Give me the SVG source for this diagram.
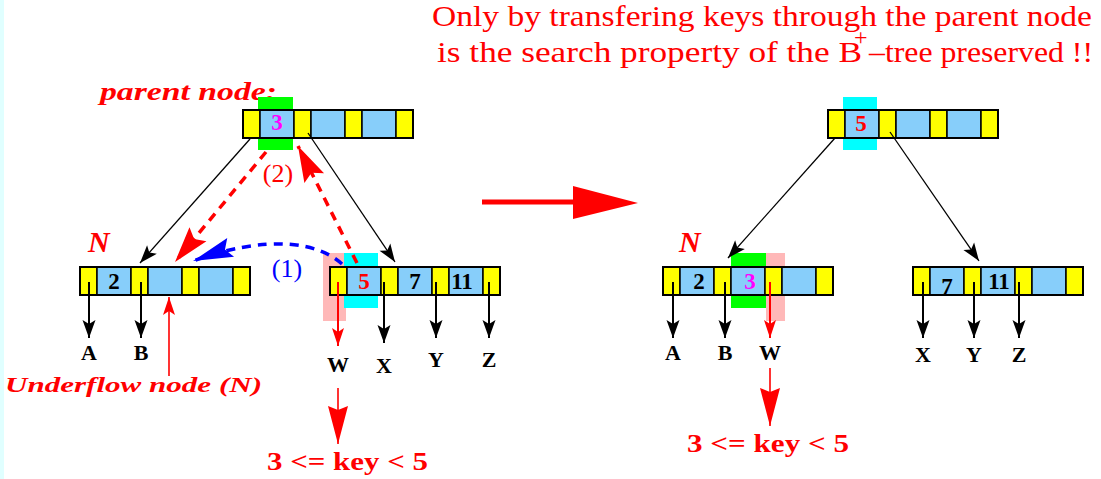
<svg xmlns="http://www.w3.org/2000/svg" width="1101" height="479" viewBox="0 0 1101 479">
<style>
.y{fill:#ffff00;stroke:#000;stroke-width:1.5}
.b{fill:#87cefa;stroke:#000;stroke-width:1.5}
.o{fill:none;stroke:#000;stroke-width:2}
.k{font-family:"Liberation Serif",serif;font-weight:bold;font-size:23px;text-anchor:middle}
.lbl{font-family:"Liberation Serif",serif;font-weight:bold;font-size:22px;text-anchor:middle;fill:#000}
.it{font-family:"Liberation Serif",serif;font-weight:bold;font-style:italic;fill:#ff0000}
.title{font-family:"Liberation Serif",serif;font-size:30px;fill:#ff0000}
.rng{font-family:"Liberation Serif",serif;font-weight:bold;font-size:26px;fill:#ff0000}
.blk{stroke:#000;stroke-width:1.3;fill:none}
.vb{stroke:#000;stroke-width:2;fill:none}
.red{stroke:#ff0000;stroke-width:1.6;fill:none}
.vr{stroke:#ff0000;stroke-width:2;fill:none}
.rdash{stroke:#ff0000;stroke-width:3.5;fill:none;stroke-dasharray:9 7}
.bdash{stroke:#0000ff;stroke-width:3.5;fill:none;stroke-dasharray:9 7}
.par{font-family:"Liberation Serif",serif;font-size:26px;text-anchor:middle}
</style>
<defs>
<marker id="ak" markerUnits="userSpaceOnUse" markerWidth="18" markerHeight="13" refX="18" refY="6.5" orient="auto" overflow="visible"><path d="M0,0 L18,6.5 L0,13 L4,6.5 z" fill="#000"/></marker>
<marker id="ar" markerUnits="userSpaceOnUse" markerWidth="18" markerHeight="12" refX="18" refY="6" orient="auto" overflow="visible"><path d="M0,0 L18,6 L0,12 L4,6 z" fill="#ff0000"/></marker>
<marker id="aR" markerUnits="userSpaceOnUse" markerWidth="36" markerHeight="22" refX="36" refY="11" orient="auto" overflow="visible"><path d="M0,0 L36,11 L0,22 L6,11 z" fill="#ff0000"/></marker>
<marker id="aB" markerUnits="userSpaceOnUse" markerWidth="40" markerHeight="20" refX="40" refY="10" orient="auto" overflow="visible"><path d="M0,0 L40,10 L0,20 L6,10 z" fill="#0000ff"/></marker>
<marker id="aD" markerUnits="userSpaceOnUse" markerWidth="38" markerHeight="20" refX="38" refY="10" orient="auto" overflow="visible"><path d="M0,0 L38,10 L0,20 L4,10 z" fill="#ff0000"/></marker>
<g id="cells">
<rect class="y" x="0" y="0" width="17" height="28"/>
<rect class="b" x="17" y="0" width="34" height="28"/>
<rect class="y" x="51" y="0" width="17" height="28"/>
<rect class="b" x="68" y="0" width="34" height="28"/>
<rect class="y" x="102" y="0" width="17" height="28"/>
<rect class="b" x="119" y="0" width="34" height="28"/>
<rect class="y" x="153" y="0" width="17" height="28"/>
<rect class="o" x="0" y="0" width="170" height="28"/>
</g>
</defs>
<rect x="0" y="0" width="1101" height="479" fill="#ffffff"/>
<rect x="0" y="0" width="4" height="479" fill="#e0ffff"/>

<g id="title">
<text class="title" x="432" y="26" textLength="660" lengthAdjust="spacingAndGlyphs">Only by transfering keys through the parent node</text>
<text class="title" y="62"><tspan x="437" textLength="425" lengthAdjust="spacingAndGlyphs">is the search property of the B</tspan><tspan x="854" y="45" font-size="24">+</tspan><tspan x="869" y="62" textLength="224" lengthAdjust="spacingAndGlyphs">–tree preserved !!</tspan></text>
</g>

<g id="parent-left">
<text class="it" x="100" y="100" font-size="25" textLength="177" lengthAdjust="spacingAndGlyphs">parent node:</text>
<rect x="258" y="97" width="35" height="53" fill="#00ff00"/>
<use href="#cells" x="243" y="110"/>
<text class="k" x="277" y="130" fill="#ff00ff">3</text>
</g>

<g id="node-N-left">
<text class="it" x="88" y="252" font-size="30">N</text>
<use href="#cells" x="80" y="267"/>
<text class="k" x="114" y="289" fill="#000">2</text>
</g>

<g id="node-sibling-left">
<rect x="323" y="253" width="23" height="68" fill="#ffb8b8"/>
<rect x="344" y="253" width="34" height="55" fill="#00ffff"/>
<use href="#cells" x="330" y="267"/>
<text class="k" x="364" y="289" fill="#ff0000">5</text>
<text class="k" x="415" y="289" fill="#000">7</text>
<text class="k" x="462" y="289" fill="#000">11</text>
</g>

<g id="parent-right">
<rect x="843" y="97" width="34" height="53" fill="#00ffff"/>
<use href="#cells" x="828" y="110"/>
<text class="k" x="861" y="131" fill="#ff0000">5</text>
</g>

<g id="node-N-right">
<text class="it" x="679" y="252" font-size="30">N</text>
<rect x="731" y="253" width="35" height="55" fill="#00ff00"/>
<rect x="766" y="253" width="19" height="68" fill="#ffb8b8"/>
<use href="#cells" x="663" y="267"/>
<text class="k" x="699" y="289" fill="#000">2</text>
<text class="k" x="750" y="289" fill="#ff00ff">3</text>
</g>

<g id="node-sibling-right">
<use href="#cells" x="913" y="267"/>
<text class="k" x="947" y="294" fill="#000">7</text>
<text class="k" x="999" y="289" fill="#000">11</text>
</g>

<g id="connectors">
<line class="blk" x1="250" y1="139" x2="140" y2="263" marker-end="url(#ak)"/>
<line class="blk" x1="308" y1="133" x2="395" y2="262" marker-end="url(#ak)"/>
<line class="blk" x1="835" y1="138" x2="728" y2="258" marker-end="url(#ak)"/>
<line class="blk" x1="890" y1="132" x2="979" y2="261" marker-end="url(#ak)"/>

<line class="rdash" x1="266" y1="152" x2="175" y2="262" marker-end="url(#aR)"/>
<line class="rdash" x1="357" y1="263" x2="298" y2="146" marker-end="url(#aR)"/>
<path class="bdash" d="M342,264 C318,242 268,234 193,261" marker-end="url(#aB)"/>

<line class="red" x1="169" y1="376" x2="169" y2="297" marker-end="url(#ar)"/>

<line class="vb" x1="89" y1="282" x2="89" y2="338" marker-end="url(#ak)"/>
<line class="vb" x1="141" y1="282" x2="141" y2="338" marker-end="url(#ak)"/>
<line class="vr" x1="338" y1="282" x2="338" y2="346" marker-end="url(#ar)"/>
<line class="vb" x1="384" y1="282" x2="384" y2="343" marker-end="url(#ak)"/>
<line class="vb" x1="436" y1="282" x2="436" y2="338" marker-end="url(#ak)"/>
<line class="vb" x1="489" y1="282" x2="489" y2="338" marker-end="url(#ak)"/>

<line class="vb" x1="673" y1="282" x2="673" y2="338" marker-end="url(#ak)"/>
<line class="vb" x1="725" y1="282" x2="725" y2="338" marker-end="url(#ak)"/>
<line class="vr" x1="770" y1="282" x2="770" y2="338" marker-end="url(#ar)"/>
<line class="vb" x1="923" y1="282" x2="923" y2="338" marker-end="url(#ak)"/>
<line class="vb" x1="974" y1="282" x2="974" y2="338" marker-end="url(#ak)"/>
<line class="vb" x1="1019" y1="282" x2="1019" y2="338" marker-end="url(#ak)"/>

<line class="red" x1="338" y1="388" x2="338" y2="444" marker-end="url(#aD)"/>
<line class="red" x1="770" y1="368" x2="770" y2="426" marker-end="url(#aD)"/>

<line x1="482" y1="202" x2="575" y2="202" stroke="#ff0000" stroke-width="5"/>
<polygon points="573,186 573,219 638,203" fill="#ff0000"/>
</g>

<g id="labels">
<text class="lbl" x="89" y="360">A</text>
<text class="lbl" x="141" y="360">B</text>
<text class="lbl" x="338" y="372">W</text>
<text class="lbl" x="384" y="373">X</text>
<text class="lbl" x="436" y="367">Y</text>
<text class="lbl" x="489" y="367">Z</text>
<text class="lbl" x="673" y="360">A</text>
<text class="lbl" x="725" y="360">B</text>
<text class="lbl" x="770" y="360">W</text>
<text class="lbl" x="923" y="362">X</text>
<text class="lbl" x="974" y="362">Y</text>
<text class="lbl" x="1019" y="362">Z</text>
<text class="it" x="5" y="392" font-size="22" textLength="257" lengthAdjust="spacingAndGlyphs">Underflow node (N)</text>
<text class="par" x="278" y="182" fill="#ff0000">(2)</text>
<text class="par" x="287" y="277" fill="#0000ff">(1)</text>
<text class="rng" x="267" y="470" textLength="161" lengthAdjust="spacingAndGlyphs">3 &lt;= key &lt; 5</text>
<text class="rng" x="687" y="452" textLength="162" lengthAdjust="spacingAndGlyphs">3 &lt;= key &lt; 5</text>
</g>
</svg>
